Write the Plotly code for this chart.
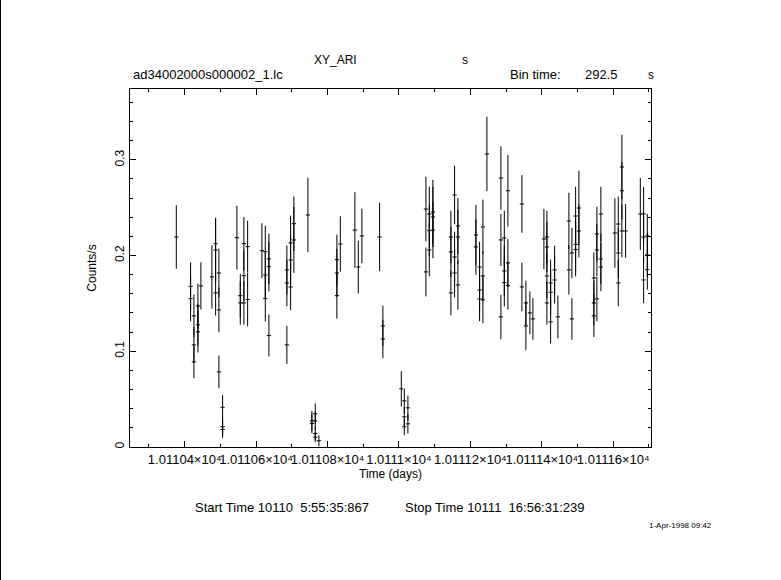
import plotly.graph_objects as go

# ---------------- data ----------------
time_days = [
    10110.3766, 10110.4166, 10110.4166, 10110.4259, 10110.4259, 10110.4259,
    10110.4371, 10110.4371, 10110.4371, 10110.4455, 10110.4763, 10110.4867,
    10110.4867, 10110.4867, 10110.4959, 10110.4959, 10110.4959, 10110.5063,
    10110.5063, 10110.5063, 10110.5463, 10110.5558, 10110.5558, 10110.5659,
    10110.5659, 10110.5659, 10110.5763, 10110.5763, 10110.6163, 10110.6258,
    10110.6258, 10110.6258, 10110.6359, 10110.6359, 10110.6359, 10110.6863,
    10110.6863, 10110.6863, 10110.6967, 10110.6967, 10110.6967, 10110.7059,
    10110.7059, 10110.7451, 10110.7563, 10110.7563, 10110.7658, 10110.7658,
    10110.7658, 10110.7658, 10110.7759, 10110.8263, 10110.8263, 10110.8263,
    10110.8359, 10110.8767, 10110.8863, 10110.8963, 10110.9459, 10110.9551,
    10110.9551, 10111.0067, 10111.0151, 10111.0151, 10111.0151, 10111.0252,
    10111.0252, 10111.0756, 10111.0756, 10111.0851, 10111.0851, 10111.0851,
    10111.0952, 10111.0952, 10111.0952, 10111.1456, 10111.1456, 10111.1456,
    10111.1559, 10111.1559, 10111.1559, 10111.1652, 10111.1652, 10111.1652,
    10111.2156, 10111.2156, 10111.2259, 10111.2259, 10111.2259, 10111.2352,
    10111.2352, 10111.2352, 10111.2464, 10111.2856, 10111.2856, 10111.2856,
    10111.2951, 10111.2951, 10111.2951, 10111.3052, 10111.3052, 10111.3052,
    10111.3444, 10111.3444, 10111.3556, 10111.3556, 10111.3668, 10111.3752,
    10111.4060, 10111.4144, 10111.4144, 10111.4144, 10111.4144, 10111.4248,
    10111.4248, 10111.4248, 10111.4360, 10111.4360, 10111.4452, 10111.4760,
    10111.4760, 10111.4844, 10111.4844, 10111.4948, 10111.4948, 10111.4948,
    10111.5040, 10111.5040, 10111.5460, 10111.5460, 10111.5460, 10111.5544,
    10111.5544, 10111.5544, 10111.5656, 10111.5656, 10111.5656, 10111.6048,
    10111.6143, 10111.6143, 10111.6143, 10111.6244, 10111.6244, 10111.6244,
    10111.6348, 10111.6760, 10111.6852, 10111.6852, 10111.6852, 10111.6956,
    10111.6956, 10111.6956,
]

rate = [
    0.2194, 0.1678, 0.1550, 0.1370, 0.1067, 0.0889,
    0.1474, 0.1276, 0.1203, 0.1683, 0.1777, 0.2124,
    0.2058, 0.1610, 0.1818, 0.1432, 0.0785, 0.0415,
    0.0211, 0.0183, 0.2187, 0.1581, 0.1505, 0.2124,
    0.1790, 0.1505, 0.2093, 0.1540, 0.2051, 0.2041,
    0.1797, 0.1550, 0.1965, 0.1884, 0.1164, 0.1850,
    0.1714, 0.1067, 0.2132, 0.1954, 0.1672, 0.2333,
    0.2163, 0.2424, 0.0273, 0.0245, 0.0347, 0.0273,
    0.0141, 0.0102, 0.0065, 0.1957, 0.1818, 0.1581,
    0.2121, 0.2267, 0.1881, 0.2205, 0.2194, 0.1265,
    0.1129, 0.0608, 0.0482, 0.0315, 0.0211, 0.0409,
    0.0242, 0.2486, 0.1829, 0.2434, 0.2260, 0.2058,
    0.2455, 0.2403, 0.2267, 0.2194, 0.2038, 0.1610,
    0.2633, 0.1985, 0.1818, 0.2309, 0.2194, 0.1693,
    0.2215, 0.2090, 0.1881, 0.1641, 0.1547, 0.2299,
    0.1787, 0.1537, 0.3061, 0.2810, 0.2163, 0.1359,
    0.2184, 0.1839, 0.1717, 0.2677, 0.1923, 0.1686,
    0.2539, 0.1672, 0.1505, 0.1265, 0.1401, 0.1338,
    0.2173, 0.2194, 0.2090, 0.1787, 0.1505, 0.1714,
    0.1616, 0.1307, 0.1850, 0.1745, 0.1359, 0.2361,
    0.1850, 0.2027, 0.1338, 0.2413, 0.2117, 0.2062,
    0.2497, 0.2257, 0.1766, 0.1505, 0.1370, 0.2225,
    0.2058, 0.1547, 0.2434, 0.1965, 0.1881, 0.2236,
    0.2330, 0.2027, 0.1714, 0.2925, 0.2677, 0.2257,
    0.2257, 0.2434, 0.2434, 0.2194, 0.1745, 0.2205,
    0.2006, 0.1853,
]

rate_err = [
    0.0332, 0.0251, 0.0237, 0.0222, 0.0188, 0.0170,
    0.0233, 0.0219, 0.0216, 0.0247, 0.0331, 0.0271,
    0.0334, 0.0237, 0.0254, 0.0233, 0.0170, 0.0128,
    0.0094, 0.0091, 0.0334, 0.0227, 0.0227, 0.0279,
    0.0261, 0.0227, 0.0271, 0.0279, 0.0287, 0.0271,
    0.0251, 0.0237, 0.0264, 0.0258, 0.0219, 0.0254,
    0.0243, 0.0198, 0.0285, 0.0261, 0.0243, 0.0285,
    0.0344, 0.0389, 0.0104, 0.0101, 0.0108, 0.0094,
    0.0073, 0.0052, 0.0059, 0.0261, 0.0251, 0.0240,
    0.0290, 0.0395, 0.0275, 0.0285, 0.0358, 0.0212,
    0.0201, 0.0186, 0.0128, 0.0104, 0.0087, 0.0128,
    0.0101, 0.0337, 0.0256, 0.0285, 0.0271, 0.0275,
    0.0337, 0.0313, 0.0295, 0.0275, 0.0261, 0.0233,
    0.0306, 0.0264, 0.0254, 0.0292, 0.0282, 0.0258,
    0.0316, 0.0289, 0.0264, 0.0240, 0.0233, 0.0285,
    0.0261, 0.0243, 0.0389, 0.0331, 0.0271, 0.0232,
    0.0285, 0.0261, 0.0247, 0.0374, 0.0251, 0.0251,
    0.0301, 0.0254, 0.0233, 0.0254, 0.0224, 0.0217,
    0.0315, 0.0275, 0.0261, 0.0240, 0.0227, 0.0243,
    0.0235, 0.0227, 0.0254, 0.0247, 0.0224, 0.0295,
    0.0258, 0.0264, 0.0217, 0.0306, 0.0282, 0.0279,
    0.0389, 0.0275, 0.0268, 0.0235, 0.0222, 0.0285,
    0.0271, 0.0233, 0.0285, 0.0261, 0.0254, 0.0363,
    0.0285, 0.0261, 0.0243, 0.0337, 0.0303, 0.0275,
    0.0280, 0.0376, 0.0282, 0.0261, 0.0243, 0.0230,
    0.0230, 0.0209,
]

x_tick_vals = [10110.4, 10110.6, 10110.8, 10111.0, 10111.2, 10111.4, 10111.6]
x_tick_text = ["1.01104×10\u2074", "1.01106×10\u2074", "1.01108×10\u2074",
               "1.0111×10\u2074", "1.01112×10\u2074", "1.01114×10\u2074",
               "1.01116×10\u2074"]
y_tick_vals = [0, 0.1, 0.2, 0.3]
y_tick_text = ["0", "0.1", "0.2", "0.3"]

start_time = 10110 + (5 * 3600 + 55 * 60 + 35.867) / 86400.0
stop_time = 10111 + (16 * 3600 + 56 * 60 + 31.239) / 86400.0
y_max = 0.374

# ---------------- layout geometry ----------------
W, H = 781, 580
L, R, T, B = 130, 130, 89, 133
PW, PH = W - L - R, H - T - B
FONT = "Liberation Sans"


def px(x):
    return (x - L) / PW


def py(y):
    return (H - B - y) / PH


fig = go.Figure()
fig.add_trace(go.Scatter(
    x=time_days, y=rate, mode="markers",
    marker=dict(symbol="line-ew", size=3, color="black",
                line=dict(width=1, color="black")),
    error_y=dict(type="data", array=rate_err, visible=True,
                 thickness=1, width=0, color="black"),
    hoverinfo="skip", showlegend=False,
))

axis_common = dict(
    showline=True, linecolor="black", linewidth=1, mirror="ticks",
    ticks="inside", ticklen=6, tickwidth=1, tickcolor="black",
    showgrid=False, zeroline=False,
    title_font=dict(family=FONT, size=12, color="black"),
)

fig.update_xaxes(
    **axis_common,
    range=[start_time, stop_time],
    tickfont=dict(family=FONT, size=13, color="black"),
    tickmode="array", tickvals=x_tick_vals, ticktext=x_tick_text, tickangle=0,
    minor=dict(ticks="inside", ticklen=3, tickwidth=1, tickcolor="black",
               tickmode="linear", tick0=10110.3, dtick=0.1, showgrid=False),
    title=dict(text="Time (days)", standoff=3),
)
fig.update_yaxes(
    **axis_common,
    range=[0, y_max],
    tickfont=dict(family=FONT, size=12, color="black"),
    tickmode="array", tickvals=y_tick_vals, ticktext=y_tick_text, tickangle=-90,
    minor=dict(ticks="inside", ticklen=3, tickwidth=1, tickcolor="black",
               tickmode="linear", tick0=0, dtick=0.02, showgrid=False),
    title=dict(text="Counts/s", standoff=14),
)

annots = []


def add_text(text, x, y, xanchor="center", size=12):
    annots.append(dict(text=text, x=px(x), y=py(y), xref="paper", yref="paper",
                       xanchor=xanchor, yanchor="middle", showarrow=False,
                       font=dict(family=FONT, size=size, color="black")))


NB = "\u00a0"
add_text("XY_ARI", 335.5, 60)
add_text("s", 464.5, 60)
add_text("ad34002000s000002_1.lc", 130.5, 74.5, xanchor="left", size=13)
add_text("Bin time:", 507.5, 74.5, xanchor="left", size=13)
add_text("292.5", 583, 74.5, xanchor="left", size=13)
add_text("s", 650.5, 74.5)
add_text("Start Time 10110" + NB * 2 + "5:55:35:867", 193.3, 507, xanchor="left", size=13)
add_text("Stop Time 10111" + NB * 2 + "16:56:31:239", 403.3, 507, xanchor="left", size=13)
add_text("1-Apr-1998 09:42", 646.5, 525.5, xanchor="left", size=8)

fig.update_layout(
    width=W, height=H, autosize=False,
    margin=dict(l=L, r=R, t=T, b=B, pad=0),
    paper_bgcolor="white", plot_bgcolor="white",
    annotations=annots,
    shapes=[dict(type="line", xref="paper", yref="paper",
                 x0=px(0.5), x1=px(0.5), y0=py(H), y1=py(0),
                 line=dict(color="black", width=1))],
)

fig.write_html("out.html", config={"displayModeBar": False},
               post_script="document.body.style.margin='0';document.body.style.overflow='hidden';")
